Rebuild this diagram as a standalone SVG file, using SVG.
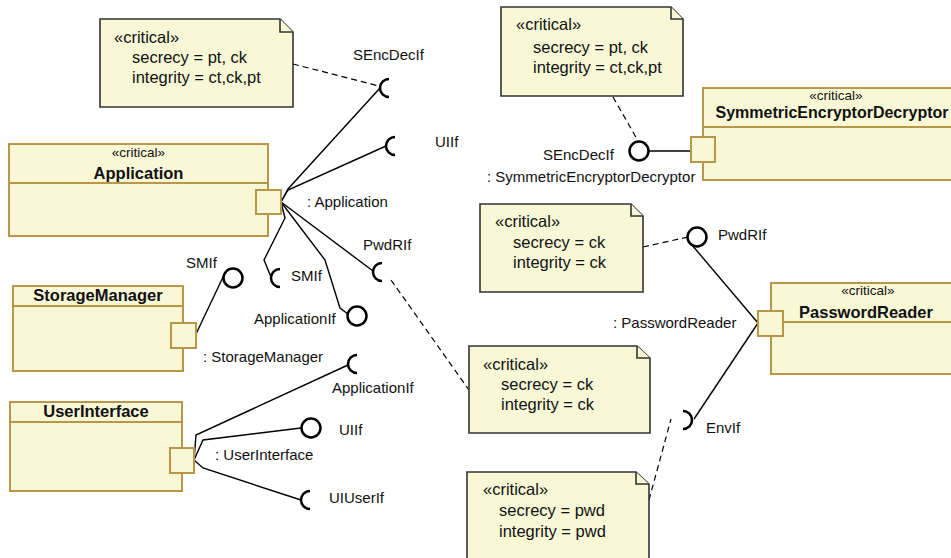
<svg xmlns="http://www.w3.org/2000/svg" width="951" height="558" viewBox="0 0 951 558">
  <style>
    .comp { fill: #f8f8d6; stroke: #b8974a; stroke-width: 2; }
    .port { fill: #f8f8d6; stroke: #b8974a; stroke-width: 2; }
    .sep { stroke: #b8974a; stroke-width: 2; fill: none; }
    .note { fill: #f8f8d6; stroke: #333; stroke-width: 1.6; }
    .wire { fill: none; stroke: #000; stroke-width: 1.4; }
    .dash { fill: none; stroke: #000; stroke-width: 1.2; stroke-dasharray: 6 4; }
    .ball { fill: #fff; stroke: #000; stroke-width: 2.5; }
    .sock { fill: none; stroke: #000; stroke-width: 2.5; }
    text { font-family: "Liberation Sans", Arial, sans-serif; fill: #111; }
    .lbl { font-size: 15px; }
    .nt { font-size: 16.5px; }
    .st { font-size: 13.5px; text-anchor: middle; }
    .nm { font-size: 16.5px; font-weight: bold; text-anchor: middle; }
  </style>

  <!-- connectors: port wiring and note anchors -->
  <g id="connectors">
    <!-- Application port -->
    <polyline class="wire" points="281,202 288,189 380,88"/>
    <polyline class="wire" points="281,202 288,190 386,146"/>
    <polyline class="wire" points="281,202 285,218 264,260 271,277"/>
    <polyline class="wire" points="281,202 325,260 340,308 348,314"/>
    <polyline class="wire" points="281,202 373,271"/>
    <!-- StorageManager port -->
    <polyline class="wire" points="196,334 224,275"/>
    <!-- UserInterface port -->
    <polyline class="wire" points="194,460 196,435 348,365"/>
    <polyline class="wire" points="194,460 203,440 301,428"/>
    <polyline class="wire" points="194,460 203,468 301,500"/>
    <!-- SymmetricEncryptorDecryptor port -->
    <line class="wire" x1="649" y1="151" x2="691" y2="151"/>
    <!-- PasswordReader port -->
    <polyline class="wire" points="758,323 692,245"/>
    <polyline class="wire" points="758,323 694,419"/>
    <!-- note anchors -->
    <line class="dash" x1="293" y1="64" x2="379" y2="86"/>
    <line class="dash" x1="613" y1="97" x2="637" y2="139"/>
    <line class="dash" x1="643" y1="247" x2="688" y2="237"/>
    <line class="dash" x1="391" y1="280" x2="469" y2="390"/>
    <line class="dash" x1="649" y1="500" x2="671" y2="419"/>
  </g>

  <!-- interface symbols -->
  <g id="interfaces">
    <path class="sock" d="M389 79 A9 9 0 0 0 389 97"/>
    <path class="sock" d="M395 137 A9 9 0 0 0 395 155"/>
    <path class="sock" d="M382 263 A9 9 0 0 0 382 281"/>
    <path class="sock" d="M280 269 A9 9 0 0 0 280 287"/>
    <path class="sock" d="M357 355 A9 9 0 0 0 357 373"/>
    <path class="sock" d="M310 491 A9 9 0 0 0 310 509"/>
    <path class="sock" d="M683 411 A9 9 0 0 1 683 429"/>
    <circle class="ball" cx="639" cy="151" r="9.5"/>
    <circle class="ball" cx="697" cy="237" r="9.5"/>
    <circle class="ball" cx="233" cy="278" r="9.5"/>
    <circle class="ball" cx="357" cy="316" r="9.5"/>
    <circle class="ball" cx="311" cy="428" r="9.5"/>
  </g>

  <!-- components -->
  <g id="application">
    <rect class="comp" x="9" y="144" width="259" height="92"/>
    <line class="sep" x1="9" y1="183" x2="268" y2="183"/>
    <text class="st" x="138.5" y="157">«critical»</text>
    <text class="nm" x="138.5" y="179">Application</text>
    <rect class="port" x="256" y="190" width="25" height="24"/>
  </g>

  <g id="storage-manager">
    <rect class="comp" x="13" y="286" width="170" height="85"/>
    <line class="sep" x1="13" y1="306" x2="183" y2="306"/>
    <text class="nm" x="98" y="301">StorageManager</text>
    <rect class="port" x="171" y="323" width="25" height="25"/>
  </g>

  <g id="user-interface">
    <rect class="comp" x="10" y="402" width="172" height="89"/>
    <line class="sep" x1="10" y1="422" x2="182" y2="422"/>
    <text class="nm" x="96" y="417">UserInterface</text>
    <rect class="port" x="170" y="448" width="24" height="25"/>
  </g>

  <g id="symmetric-encryptor-decryptor">
    <rect class="comp" x="703" y="88" width="267" height="92"/>
    <line class="sep" x1="703" y1="127" x2="970" y2="127"/>
    <text class="st" x="836" y="100">«critical»</text>
    <text class="nm" x="832" y="118" style="font-size:16px">SymmetricEncryptorDecryptor</text>
    <rect class="port" x="691" y="137" width="24" height="25"/>
  </g>

  <g id="password-reader">
    <rect class="comp" x="771" y="283" width="191" height="91"/>
    <line class="sep" x1="771" y1="322" x2="962" y2="322"/>
    <text class="st" x="868" y="295">«critical»</text>
    <text class="nm" x="866" y="318">PasswordReader</text>
    <rect class="port" x="758" y="311" width="25" height="25"/>
  </g>

  <!-- port and interface labels -->
  <g id="labels">
    <text class="lbl" x="353" y="60">SEncDecIf</text>
    <text class="lbl" x="435" y="147">UIIf</text>
    <text class="lbl" x="307" y="207">: Application</text>
    <text class="lbl" x="363" y="250">PwdRIf</text>
    <text class="lbl" x="186" y="268">SMIf</text>
    <text class="lbl" x="291" y="281">SMIf</text>
    <text class="lbl" x="254" y="324">ApplicationIf</text>
    <text class="lbl" x="203" y="362">: StorageManager</text>
    <text class="lbl" x="332" y="393">ApplicationIf</text>
    <text class="lbl" x="339" y="435">UIIf</text>
    <text class="lbl" x="215" y="460">: UserInterface</text>
    <text class="lbl" x="329" y="503">UIUserIf</text>
    <text class="lbl" x="543" y="160">SEncDecIf</text>
    <text class="lbl" x="487" y="182">: SymmetricEncryptorDecryptor</text>
    <text class="lbl" x="718" y="240">PwdRIf</text>
    <text class="lbl" x="613" y="328">: PasswordReader</text>
    <text class="lbl" x="706" y="433">EnvIf</text>
  </g>

  <!-- notes -->
  <g id="note-app-senc">
    <path class="note" d="M100 19 H280 L293 32 V107 H100 Z"/>
    <path class="note" d="M280 19 V32 H293" fill="none"/>
    <text class="nt" x="114" y="43">«critical»</text>
    <text class="nt" x="132" y="63">secrecy = pt, ck</text>
    <text class="nt" x="132" y="83">integrity = ct,ck,pt</text>
  </g>

  <g id="note-sed-senc">
    <path class="note" d="M501 7 H671 L683 19 V96 H501 Z"/>
    <path class="note" d="M671 7 V19 H683" fill="none"/>
    <text class="nt" x="516" y="30">«critical»</text>
    <text class="nt" x="533" y="53">secrecy = pt, ck</text>
    <text class="nt" x="533" y="73">integrity = ct,ck,pt</text>
  </g>

  <g id="note-pr-pwdr">
    <path class="note" d="M480 204 H631 L643 216 V292 H480 Z"/>
    <path class="note" d="M631 204 V216 H643" fill="none"/>
    <text class="nt" x="495" y="227">«critical»</text>
    <text class="nt" x="513" y="248">secrecy = ck</text>
    <text class="nt" x="513" y="268">integrity = ck</text>
  </g>

  <g id="note-app-pwdr">
    <path class="note" d="M469 346 H637 L650 358 V433 H469 Z"/>
    <path class="note" d="M637 346 V358 H650" fill="none"/>
    <text class="nt" x="483" y="370">«critical»</text>
    <text class="nt" x="501" y="390">secrecy = ck</text>
    <text class="nt" x="501" y="410">integrity = ck</text>
  </g>

  <g id="note-pr-env">
    <path class="note" d="M467 472 H636 L649 484 V570 H467 Z"/>
    <path class="note" d="M636 472 V484 H649" fill="none"/>
    <text class="nt" x="483" y="495">«critical»</text>
    <text class="nt" x="499" y="516">secrecy = pwd</text>
    <text class="nt" x="499" y="537">integrity = pwd</text>
  </g>
</svg>
